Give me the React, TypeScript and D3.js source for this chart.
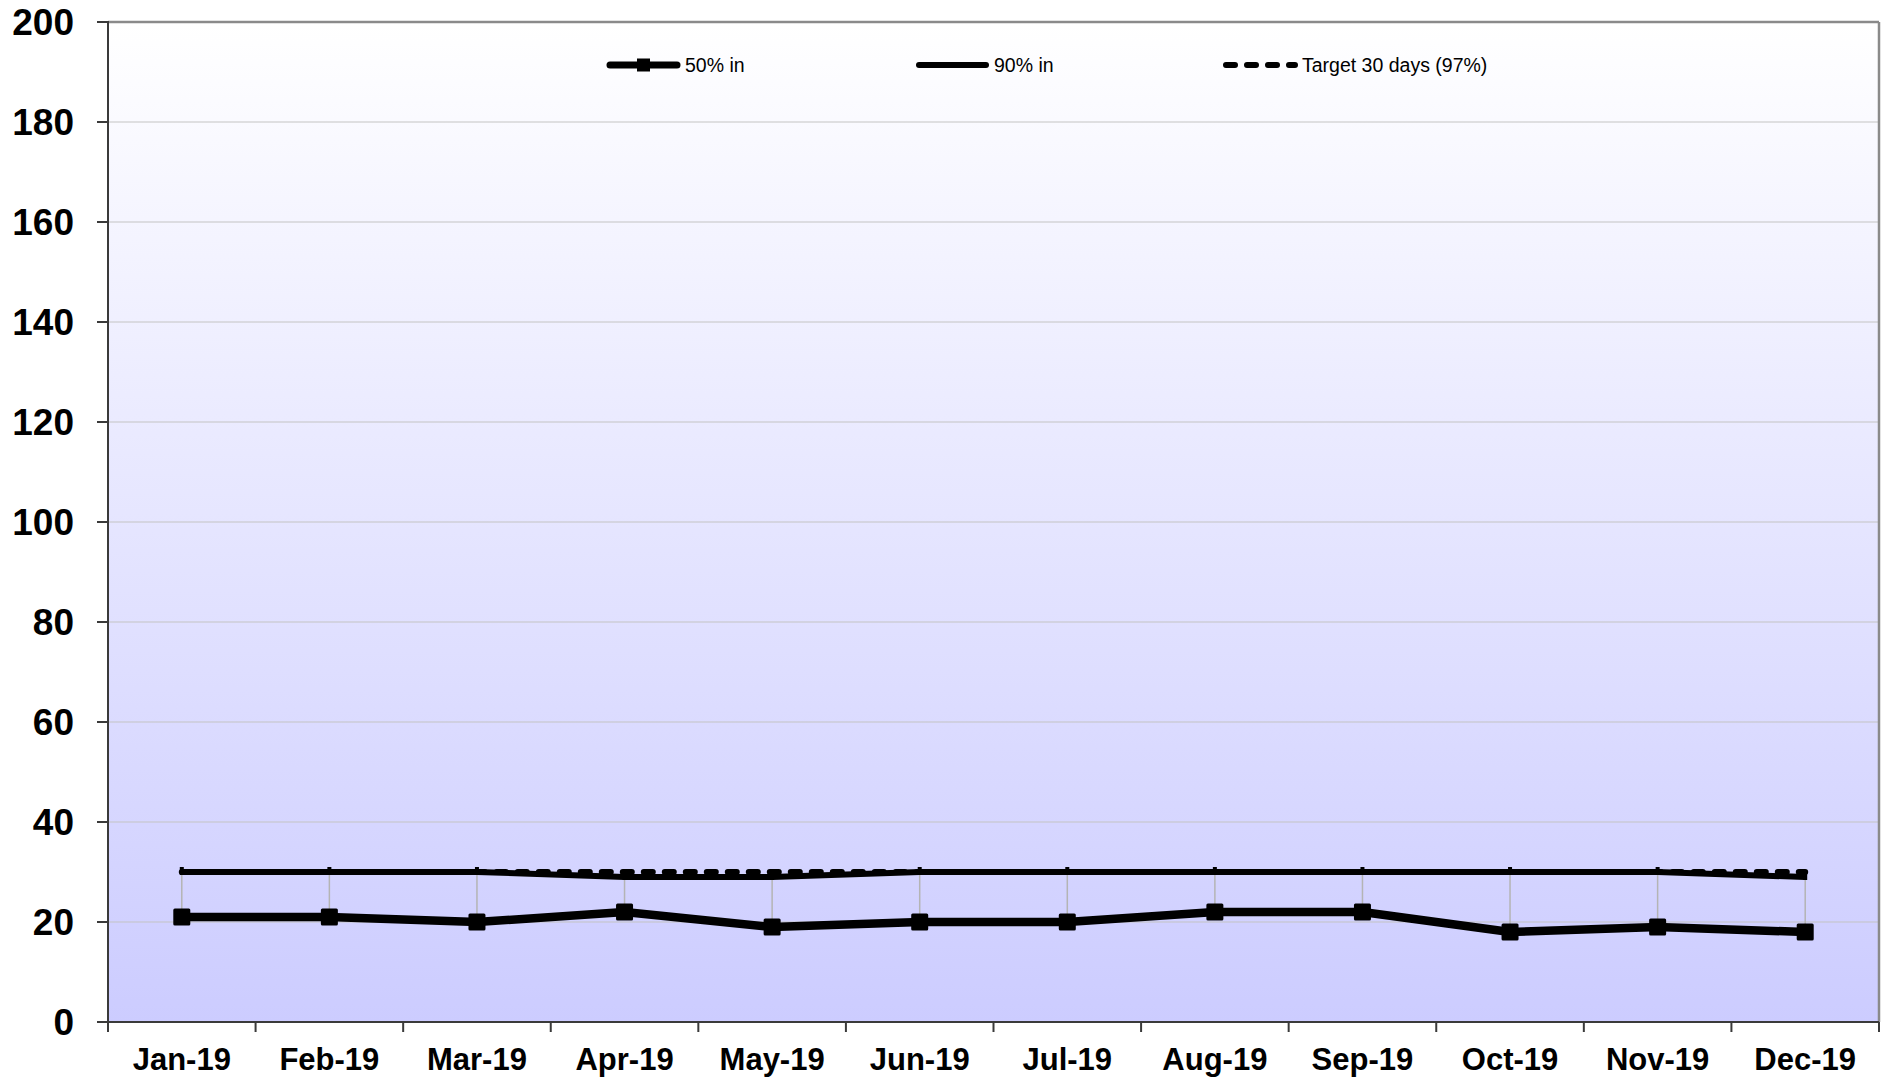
import React from "react";
import * as d3 from "d3";

const months = ["Jan-19","Feb-19","Mar-19","Apr-19","May-19","Jun-19","Jul-19","Aug-19","Sep-19","Oct-19","Nov-19","Dec-19"];
const p50 = [21, 21, 20, 22, 19, 20, 20, 22, 22, 18, 19, 18];
const p90 = [30, 30, 30, 29, 29, 30, 30, 30, 30, 30, 30, 29];
const target = [30, 30, 30, 30, 30, 30, 30, 30, 30, 30, 30, 30];
const yTicks = [0, 20, 40, 60, 80, 100, 120, 140, 160, 180, 200];
const legendLabels = ["50% in", "90% in", "Target 30 days (97%)"];

const W = 1883, H = 1082;
const L = 108, R = 1879, T = 22, B = 1022;
const FONT = "'Liberation Sans', Arial, sans-serif";

export default function App() {
  const x = d3.scaleBand<string>().domain(months).range([L, R]).padding(0);
  const y = d3.scaleLinear().domain([0, 200]).range([B, T]);
  const cx = (i: number) => (x(months[i]) as number) + x.bandwidth() / 2;
  const line = d3.line<number>().x((_, i) => cx(i)).y((d) => y(d));
  const boundaries = months.map((m) => x(m) as number).concat([R]);
  const legendX = [607, 916, 1223];
  const legendY = 65;

  return (
    <div style={{ position: "absolute", left: 0, top: 0 }}>
      <svg width={W} height={H} style={{ display: "block", fontFamily: FONT }}>
        <defs>
          <linearGradient id="bg" x1="0" y1="0" x2="0" y2="1">
            <stop offset="0" stopColor="#ffffff" />
            <stop offset="1" stopColor="#ccccff" />
          </linearGradient>
        </defs>
        <rect x={0} y={0} width={W} height={H} fill="#ffffff" />
        <rect x={L} y={T} width={R - L} height={B - T} fill="url(#bg)" />
        {yTicks.filter((t) => t > 0 && t < 200).map((t) => (
          <line key={t} x1={L} x2={R} y1={y(t)} y2={y(t)} stroke="#c4c4c4" strokeWidth={1.2} />
        ))}
        <line x1={L} x2={R} y1={T} y2={T} stroke="#8a8a8a" strokeWidth={2.5} />
        <line x1={R} x2={R} y1={T} y2={B} stroke="#8a8a8a" strokeWidth={2.5} />
        {months.map((m, i) => (
          <line key={m} x1={cx(i)} x2={cx(i)}
            y1={y(Math.max(p50[i], p90[i], target[i]))}
            y2={y(Math.min(p50[i], p90[i], target[i]))}
            stroke="#b4b4b4" strokeWidth={1.5} />
        ))}
        <path d={line(target) as string} fill="none" stroke="#000" strokeWidth={6}
          strokeDasharray="9 12" strokeLinecap="round" />
        <path d={line(p90) as string} fill="none" stroke="#000" strokeWidth={6} strokeLinejoin="round" />
        {p90.map((v, i) => (
          <rect key={i} x={cx(i) - 2} y={y(v) - 5} width={4} height={8} fill="#000" />
        ))}
        <path d={line(p50) as string} fill="none" stroke="#000" strokeWidth={8.5} strokeLinejoin="round" />
        {p50.map((v, i) => (
          <rect key={i} x={cx(i) - 8.5} y={y(v) - 8.5} width={17} height={17} fill="#000" rx={1.5} />
        ))}
        <line x1={L} x2={L} y1={T - 1} y2={B + 10} stroke="#3a3a3a" strokeWidth={2} />
        <line x1={L - 11} x2={R} y1={B} y2={B} stroke="#3a3a3a" strokeWidth={2} />
        {yTicks.map((t) => (
          <g key={t}>
            <line x1={L - 11} x2={L} y1={y(t)} y2={y(t)} stroke="#3a3a3a" strokeWidth={2} />
            <text x={74} y={y(t)} dy="0.36em" textAnchor="end" fontSize={37} fontWeight="bold" fill="#000">{t}</text>
          </g>
        ))}
        {boundaries.map((b, i) => (
          <line key={i} x1={b} x2={b} y1={B} y2={B + 10} stroke="#3a3a3a" strokeWidth={2} />
        ))}
        {months.map((m, i) => (
          <text key={m} x={cx(i)} y={1070} textAnchor="middle" fontSize={31} fontWeight="bold" fill="#000">{m}</text>
        ))}
        <g>
          <line x1={legendX[0] + 3} x2={legendX[0] + 70} y1={legendY} y2={legendY} stroke="#000" strokeWidth={7} strokeLinecap="round" />
          <rect x={legendX[0] + 30} y={legendY - 6.5} width={13} height={13} fill="#000" />
          <text x={legendX[0] + 78} y={legendY} dy="0.36em" fontSize={19.5} fill="#000">{legendLabels[0]}</text>
          <line x1={legendX[1] + 3} x2={legendX[1] + 70} y1={legendY} y2={legendY} stroke="#000" strokeWidth={6} strokeLinecap="round" />
          <rect x={legendX[1] + 35} y={legendY - 3} width={3} height={6} fill="#000" />
          <text x={legendX[1] + 78} y={legendY} dy="0.36em" fontSize={19.5} fill="#000">{legendLabels[1]}</text>
          <line x1={legendX[2] + 3} x2={legendX[2] + 72} y1={legendY} y2={legendY} stroke="#000" strokeWidth={6}
            strokeDasharray="9 12" strokeLinecap="round" />
          <text x={legendX[2] + 79} y={legendY} dy="0.36em" fontSize={19.5} fill="#000">{legendLabels[2]}</text>
        </g>
      </svg>
    </div>
  );
}
